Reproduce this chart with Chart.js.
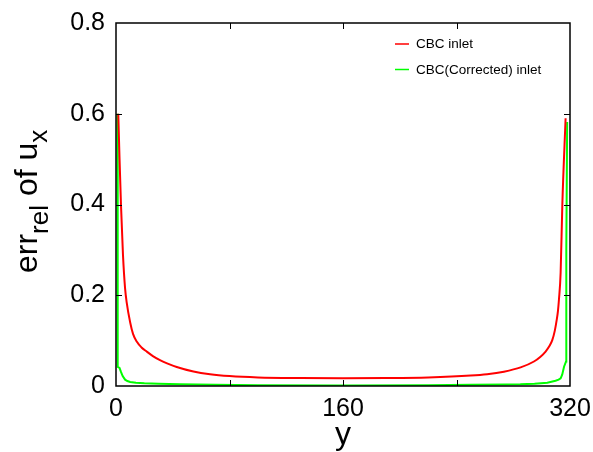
<!DOCTYPE html>
<html>
<head>
<meta charset="utf-8">
<script src="https://cdn.jsdelivr.net/npm/chart.js@4.4.1/dist/chart.umd.min.js"></script>
<style>
    html, body { margin: 0; padding: 0; background: #fff; }
    #wrap { width: 593px; height: 452px; }
</style>
</head>
<body>
<div id="wrap"><canvas id="errChart" width="593" height="452"></canvas></div>
<script>
// position across the channel (y) and relative error of u_x
const redX = [1.6, 2.5, 3.5, 4.9, 6.4, 7.5, 10, 12, 14.6, 18, 21.6, 26, 31, 36, 42.8, 54.6, 66.3, 80, 100, 130, 160,
    190, 220, 250, 261.6, 273.4, 285.2, 294.6, 299, 302.8, 305.5, 307.5, 309.3, 310.6, 311.5, 312.2, 313.4, 314.6, 316.9];
const redY = [0.600, 0.500, 0.400, 0.290, 0.215, 0.185, 0.140, 0.115, 0.098, 0.085, 0.076, 0.066, 0.057, 0.050, 0.042, 0.032, 0.026, 0.022, 0.019, 0.0175, 0.017,
    0.0175, 0.019, 0.023, 0.026, 0.0316, 0.041, 0.054, 0.064, 0.076, 0.088, 0.101, 0.122, 0.145, 0.165, 0.190, 0.250, 0.400, 0.590];

const greenX = [1.0, 1.2, 2.5, 3.5, 4.7, 6.4, 8, 10, 14, 20, 30, 45, 70, 100, 160,
    220, 250, 275, 285, 295, 304, 309.8, 312, 313.4, 314.5, 315.8, 317.2, 317.4, 318.0];
const greenY = [0.600, 0.042, 0.040, 0.031, 0.022, 0.014, 0.011, 0.009, 0.007, 0.0058, 0.0047, 0.0037, 0.0027, 0.0018, 0.0012,
    0.0018, 0.0026, 0.0032, 0.0037, 0.005, 0.0073, 0.0117, 0.014, 0.017, 0.025, 0.0425, 0.054, 0.300, 0.582];

const seriesNames = ["CBC inlet", "CBC(Corrected) inlet"];
const xLabelTicks = [0, 160, 320];
const xTickStep = 80;
const yTickStep = 0.2;

const FONT = "'Liberation Sans', Arial, sans-serif";

function toPoints(xs, ys) {
    return xs.map(function (x, i) { return { x: x, y: ys[i] }; });
}

// frame, inward ticks, axis titles and legend
const framePlugin = {
    id: "frame",
    afterDatasetsDraw: function (chart) {
        const ctx = chart.ctx;
        const a = chart.chartArea;
        const xs = chart.scales.x;
        const ys = chart.scales.y;
        ctx.save();
        ctx.strokeStyle = "#000";
        ctx.lineWidth = 1;
        ctx.beginPath();
        for (let v = xTickStep; v < 320; v += xTickStep) {
            const px = Math.round(xs.getPixelForValue(v)) + 0.5;
            ctx.moveTo(px, a.bottom); ctx.lineTo(px, a.bottom - 6);
            ctx.moveTo(px, a.top); ctx.lineTo(px, a.top + 6);
        }
        for (let v = yTickStep; v < 0.79; v += yTickStep) {
            const py = Math.round(ys.getPixelForValue(v)) + 0.5;
            ctx.moveTo(a.left, py); ctx.lineTo(a.left + 6, py);
            ctx.moveTo(a.right, py); ctx.lineTo(a.right - 6, py);
        }
        ctx.stroke();
        ctx.lineWidth = 1.5;
        ctx.strokeRect(a.left, a.top, a.right - a.left, a.bottom - a.top);

        // legend
        const colors = [chart.data.datasets[0].borderColor, chart.data.datasets[1].borderColor];
        const rows = [44, 69.5];
        ctx.font = "13.5px " + FONT;
        ctx.textBaseline = "middle";
        ctx.textAlign = "left";
        rows.forEach(function (ry, i) {
            ctx.strokeStyle = colors[i];
            ctx.lineWidth = 1.5;
            ctx.beginPath();
            ctx.moveTo(395, ry); ctx.lineTo(409, ry);
            ctx.stroke();
            ctx.fillStyle = "#000";
            ctx.fillText(seriesNames[i], 416, ry + 0.5);
        });

        // x axis title
        ctx.font = "32px " + FONT;
        ctx.textAlign = "center";
        ctx.textBaseline = "alphabetic";
        ctx.fillText("y", (a.left + a.right) / 2, 444);

        // y axis title with subscripts
        ctx.translate(37, 273);
        ctx.rotate(-Math.PI / 2);
        ctx.textAlign = "left";
        const parts = [["err", 32, 0], ["rel", 26, 11], [" of u", 32, 0], ["x", 26, 10]];
        let cx = 0;
        parts.forEach(function (p) {
            ctx.font = p[1] + "px " + FONT;
            ctx.fillText(p[0], cx, p[2]);
            cx += ctx.measureText(p[0]).width;
        });
        ctx.restore();
    }
};

const ctx = document.getElementById("errChart").getContext("2d");
new Chart(ctx, {
    type: "line",
    data: {
        datasets: [
            {
                label: seriesNames[0],
                data: toPoints(redX, redY),
                borderColor: "#ff0000",
                borderWidth: 2,
                pointRadius: 0,
                cubicInterpolationMode: "monotone",
                fill: false
            },
            {
                label: seriesNames[1],
                data: toPoints(greenX, greenY),
                borderColor: "#00ff00",
                borderWidth: 2,
                pointRadius: 0,
                tension: 0,
                fill: false
            }
        ]
    },
    options: {
        responsive: false,
        animation: false,
        devicePixelRatio: 1,
        layout: { padding: { top: 23, right: 23, left: 0, bottom: 0 } },
        plugins: {
            legend: { display: false },
            tooltip: { enabled: false }
        },
        scales: {
            x: {
                type: "linear",
                min: 0,
                max: 320,
                grid: { display: false, drawTicks: false },
                border: { display: false },
                ticks: {
                    stepSize: xTickStep,
                    padding: 8,
                    maxRotation: 0,
                    autoSkip: false,
                    color: "#000",
                    font: { family: FONT, size: 25 },
                    callback: function (v) { return xLabelTicks.indexOf(v) >= 0 ? String(v) : ""; }
                },
                afterFit: function (scale) {
                    scale.height = 66;
                    scale.paddingLeft = 0;
                    scale.paddingRight = 0;
                }
            },
            y: {
                min: 0,
                max: 0.8,
                grid: { display: false, drawTicks: false },
                border: { display: false },
                ticks: {
                    stepSize: yTickStep,
                    padding: 11,
                    color: "#000",
                    font: { family: FONT, size: 25 }
                },
                afterFit: function (scale) {
                    scale.width = 116;
                    scale.paddingTop = 0;
                    scale.paddingBottom = 0;
                }
            }
        }
    },
    plugins: [framePlugin]
});
</script>
</body>
</html>
